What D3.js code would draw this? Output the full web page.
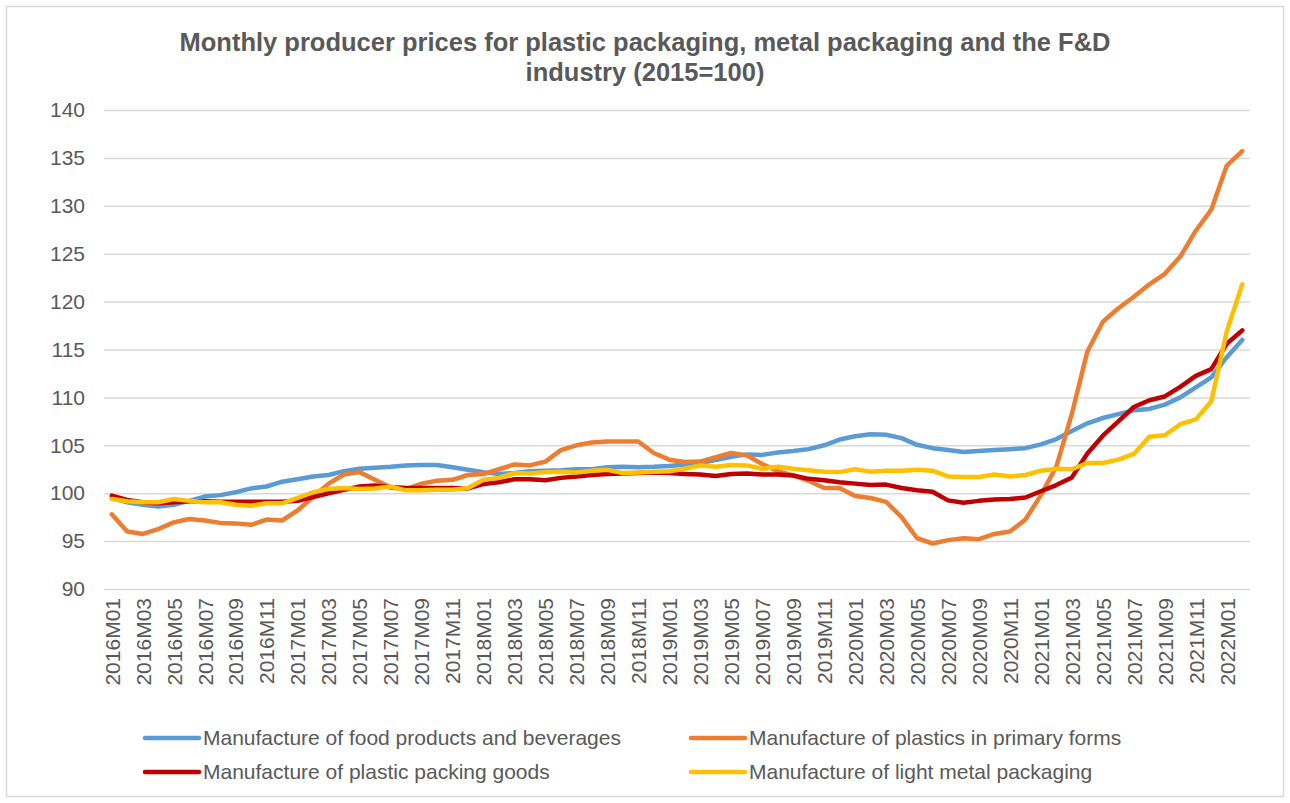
<!DOCTYPE html>
<html>
<head>
<meta charset="utf-8">
<script src="https://cdn.jsdelivr.net/npm/d3@7"></script>
<style>
    body { margin: 0; background: #fff; }
    text { font-family: "Liberation Sans", Arial, sans-serif; fill: #595959; }
</style>
</head>
<body>
<div id="content"></div>
<script>
// months 2016M01 .. 2022M02
const months = [];
for (let y = 2016; y <= 2022; y++) {
    for (let m = 1; m <= 12; m++) {
        if (y === 2022 && m > 2) break;
        months.push(`${y}M${m < 10 ? "0" + m : m}`);
    }
}

const foodBeverages = [
    99.5, 99.05, 98.8, 98.6, 98.8, 99.2, 99.65, 99.8, 100.1, 100.5, 100.7, 101.2,
    101.45, 101.75, 101.9, 102.3, 102.55, 102.65, 102.75, 102.9, 102.95, 102.95, 102.7, 102.45,
    102.2, 102.0, 102.1, 102.3, 102.35, 102.4, 102.5, 102.5, 102.7, 102.75, 102.7, 102.75,
    102.85, 103.0, 103.15, 103.45, 103.8, 104.05, 104.0, 104.25, 104.4, 104.6, 105.0, 105.6,
    105.95, 106.15, 106.1, 105.75, 105.05, 104.7, 104.5, 104.3, 104.4, 104.5, 104.6, 104.7,
    105.1, 105.65, 106.5, 107.3, 107.85, 108.25, 108.65, 108.8, 109.25, 110.0, 111.05, 112.1,
    114.2, 116.0
];

const plasticsPrimary = [
    97.8, 96.0, 95.75, 96.25, 96.95, 97.3, 97.15, 96.9, 96.85, 96.7, 97.25, 97.15,
    98.2, 99.6, 101.0, 101.95, 102.2, 101.4, 100.6, 100.4, 101.0, 101.3, 101.4, 101.9,
    102.0, 102.5, 103.0, 102.9, 103.3, 104.5, 105.0, 105.3, 105.4, 105.4, 105.4, 104.2,
    103.5, 103.25, 103.3, 103.75, 104.2, 103.95, 103.05, 102.3, 101.85, 101.3, 100.55, 100.55,
    99.7, 99.5, 99.1, 97.5, 95.3, 94.75, 95.1, 95.3, 95.2, 95.75, 96.0, 97.25,
    99.8, 102.8, 108.3, 114.8, 117.9, 119.3, 120.5, 121.8, 122.9, 124.7, 127.4, 129.6,
    134.2, 135.7
];

const plasticPacking = [
    99.75, 99.3, 99.05, 98.95, 99.05, 99.15, 99.15, 99.1, 99.1, 99.1, 99.1, 99.1,
    99.2, 99.6, 100.0, 100.35, 100.7, 100.8, 100.65, 100.55, 100.55, 100.55, 100.55, 100.5,
    100.95, 101.15, 101.45, 101.45, 101.35, 101.6, 101.75, 101.9, 102.0, 102.05, 102.1, 102.15,
    102.1, 102.0, 101.95, 101.8, 102.0, 102.05, 101.95, 101.95, 101.85, 101.5, 101.35, 101.15,
    101.0, 100.85, 100.9, 100.55, 100.3, 100.15, 99.25, 99.0, 99.2, 99.35, 99.4, 99.55,
    100.2, 100.85, 101.65, 104.15, 106.0, 107.5, 109.0, 109.7, 110.1, 111.1, 112.25, 112.95,
    115.6, 117.0
];

const lightMetal = [
    99.4, 99.15, 99.05, 99.05, 99.4, 99.2, 99.05, 99.05, 98.8, 98.7, 98.95, 98.95,
    99.5, 100.1, 100.45, 100.55, 100.45, 100.5, 100.7, 100.3, 100.3, 100.35, 100.35, 100.55,
    101.4, 101.6, 102.1, 102.05, 102.2, 102.25, 102.15, 102.35, 102.45, 102.1, 102.15, 102.25,
    102.3, 102.55, 102.9, 102.75, 102.95, 102.9, 102.55, 102.75, 102.55, 102.4, 102.25, 102.2,
    102.5, 102.25, 102.35, 102.35, 102.45, 102.35, 101.75, 101.7, 101.7, 101.95, 101.75, 101.9,
    102.35, 102.55, 102.5, 103.15, 103.15, 103.5, 104.1, 105.9, 106.05, 107.2, 107.7, 109.6,
    116.9, 121.8
];

const yTicks = [90, 95, 100, 105, 110, 115, 120, 125, 130, 135, 140];

const series = [
    { name: "Manufacture of food products and beverages", color: "#5B9BD5", values: foodBeverages },
    { name: "Manufacture of plastics in primary forms", color: "#ED7D31", values: plasticsPrimary },
    { name: "Manufacture of plastic packing goods", color: "#C00000", values: plasticPacking },
    { name: "Manufacture of light metal packaging", color: "#FFC000", values: lightMetal }
];

const svgWidth = 1290, svgHeight = 803;
const margin = { top: 110, right: 40, bottom: 214, left: 104 };
const width = svgWidth - margin.left - margin.right;
const height = svgHeight - margin.top - margin.bottom;

const svg = d3.select("#content")
    .append("svg")
    .attr("width", svgWidth)
    .attr("height", svgHeight);

// chart border
svg.append("rect")
    .attr("x", 6.5).attr("y", 6.5)
    .attr("width", 1277).attr("height", 790)
    .attr("fill", "#fff")
    .attr("stroke", "#D9D9D9")
    .attr("stroke-width", 1.5);

// title
const title = svg.append("text")
    .attr("text-anchor", "middle")
    .style("font-size", "25.5px")
    .style("font-weight", "bold");
title.append("tspan").attr("x", 645).attr("y", 51)
    .text("Monthly producer prices for plastic packaging, metal packaging and the F&D");
title.append("tspan").attr("x", 645).attr("y", 81)
    .text("industry (2015=100)");

const g = svg.append("g")
    .attr("transform", `translate(${margin.left}, ${margin.top})`);

const x = d3.scalePoint()
    .domain(months)
    .range([0, width])
    .padding(0.5);

const y = d3.scaleLinear()
    .domain([90, 140])
    .range([height, 0]);

// y axis + gridlines
const yAxis = g.append("g")
    .call(d3.axisLeft(y).tickValues(yTicks).tickSize(-width).tickPadding(19));
yAxis.select(".domain").remove();
yAxis.selectAll(".tick line").attr("stroke", "#D9D9D9").attr("stroke-width", 1.5);
yAxis.selectAll(".tick text")
    .style("font-size", "21px")
    .style("font-family", "'Liberation Sans', Arial, sans-serif")
    .attr("fill", "#595959");

// x axis labels, every second month
const xAxis = g.append("g")
    .attr("transform", `translate(0, ${height})`)
    .call(d3.axisBottom(x)
        .tickValues(months.filter((d, i) => i % 2 === 0))
        .tickSize(0)
        .tickPadding(0));
xAxis.select(".domain").remove();
xAxis.selectAll(".tick text")
    .style("font-size", "21px")
    .style("font-family", "'Liberation Sans', Arial, sans-serif")
    .attr("fill", "#595959")
    .attr("text-anchor", "end")
    .attr("transform", "rotate(-90)")
    .attr("x", -9)
    .attr("y", 0)
    .attr("dy", "0.35em");

const line = d3.line()
    .x((d, i) => x(months[i]))
    .y(d => y(d));

g.append("g")
    .style("fill", "none")
    .selectAll("path")
    .data(series)
    .enter()
    .append("path")
    .attr("d", d => line(d.values))
    .attr("stroke", d => d.color)
    .attr("stroke-width", 4.5)
    .attr("stroke-linejoin", "round")
    .attr("stroke-linecap", "round");

// legend, two columns
const legendPos = [
    { lx: 145, ly: 738 },
    { lx: 691, ly: 738 },
    { lx: 145, ly: 772 },
    { lx: 691, ly: 772 }
];
const legend = svg.append("g")
    .selectAll("g")
    .data(series)
    .enter()
    .append("g")
    .attr("transform", (d, i) => `translate(${legendPos[i].lx}, ${legendPos[i].ly})`);
legend.append("line")
    .attr("x1", 0).attr("x2", 54)
    .attr("stroke", d => d.color)
    .attr("stroke-width", 4.5)
    .attr("stroke-linecap", "round");
legend.append("text")
    .attr("x", 58)
    .attr("dy", "0.35em")
    .style("font-size", "21px")
    .text(d => d.name);
</script>
</body>
</html>
